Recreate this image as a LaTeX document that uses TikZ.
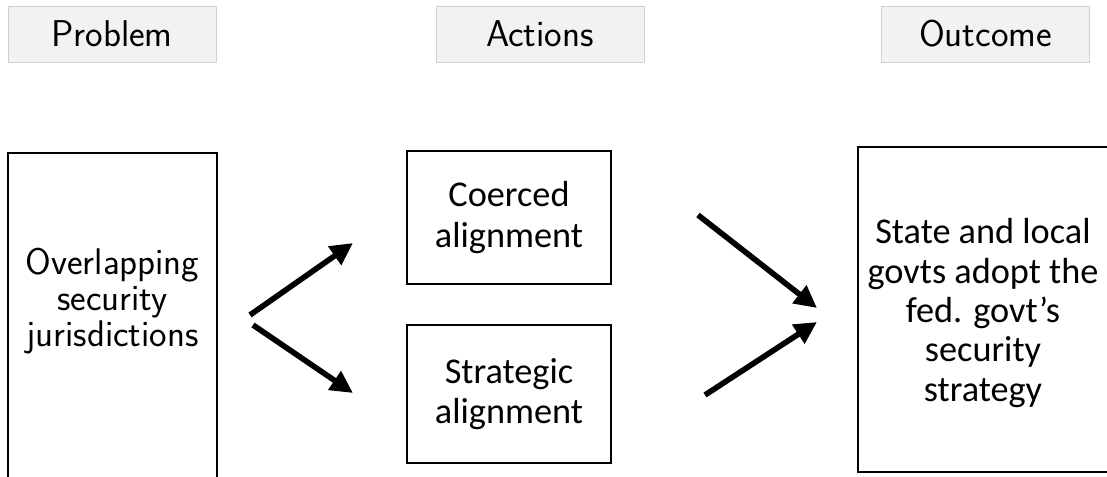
\documentclass[tikz,border=0pt]{standalone}
\usepackage{fontspec}
\newfontfamily\calibrifont{Carlito}
\usetikzlibrary{arrows.meta}

\begin{document}
\begin{tikzpicture}[
  x=0.025cm, y=-0.025cm,
  header/.style={draw=black!18, fill=black!5, line width=0.6pt,
    minimum width=5.2cm, minimum height=1.4cm, inner sep=0pt,
    font=\sffamily\fontsize{26.5}{30}\selectfont},
  frame/.style={draw=black, line width=1.1pt, inner sep=0pt, align=center},
  sanstext/.style={align=center, inner sep=0pt,
    font=\sffamily\fontsize{26.4}{25.5}\selectfont},
  calibritext/.style={align=center, inner sep=0pt,
    font=\calibrifont\fontsize{25.8}{28.5}\selectfont},
  flow/.style={-{Triangle[length=5.6mm,width=5.4mm]}, line width=4pt}
]
\useasboundingbox (0,0) rectangle (1107,476);

% column headers
\node[header] (problemhdr) at (112,34) {Problem};
\node[header] (actionshdr) at (540,34) {Actions};
\node[header] (outcomehdr) at (985.5,34) {Outcome};

% boxes
\node[frame, minimum width=5.225cm, minimum height=8.35cm] (problem)
  at (112.5,320) {};
\node[sanstext] (problemtext) at (112.5,301)
  {Overlapping\\security\\jurisdictions};
\node[frame, calibritext, minimum width=5.1cm, minimum height=3.325cm]
  (coerced) at (509,217.5) {Coerced\\alignment};
\node[frame, calibritext, minimum width=5.1cm, minimum height=3.45cm]
  (strategic) at (509,394) {Strategic\\alignment};
\node[frame, minimum width=6.25cm, minimum height=8.125cm] (outcome)
  at (983,309.5) {};
\node[calibritext, font=\calibrifont\fontsize{25.8}{28}\selectfont]
  (outcometext) at (983,313)
  {State and local\\govts adopt the\\fed. govt’s\\security\\strategy};

% arrows
\coordinate (upstart) at (250,315);
\coordinate (upend) at (353,243);
\coordinate (downstart) at (253,325);
\coordinate (downend) at (353,393);
\coordinate (coercedout) at (698,215);
\coordinate (coercedin) at (817,308);
\coordinate (strategicout) at (705,395);
\coordinate (strategicin) at (817,322);
\draw[flow] (upstart) -- (upend);
\draw[flow] (downstart) -- (downend);
\draw[flow] (coercedout) -- (coercedin);
\draw[flow] (strategicout) -- (strategicin);
\end{tikzpicture}
\end{document}
